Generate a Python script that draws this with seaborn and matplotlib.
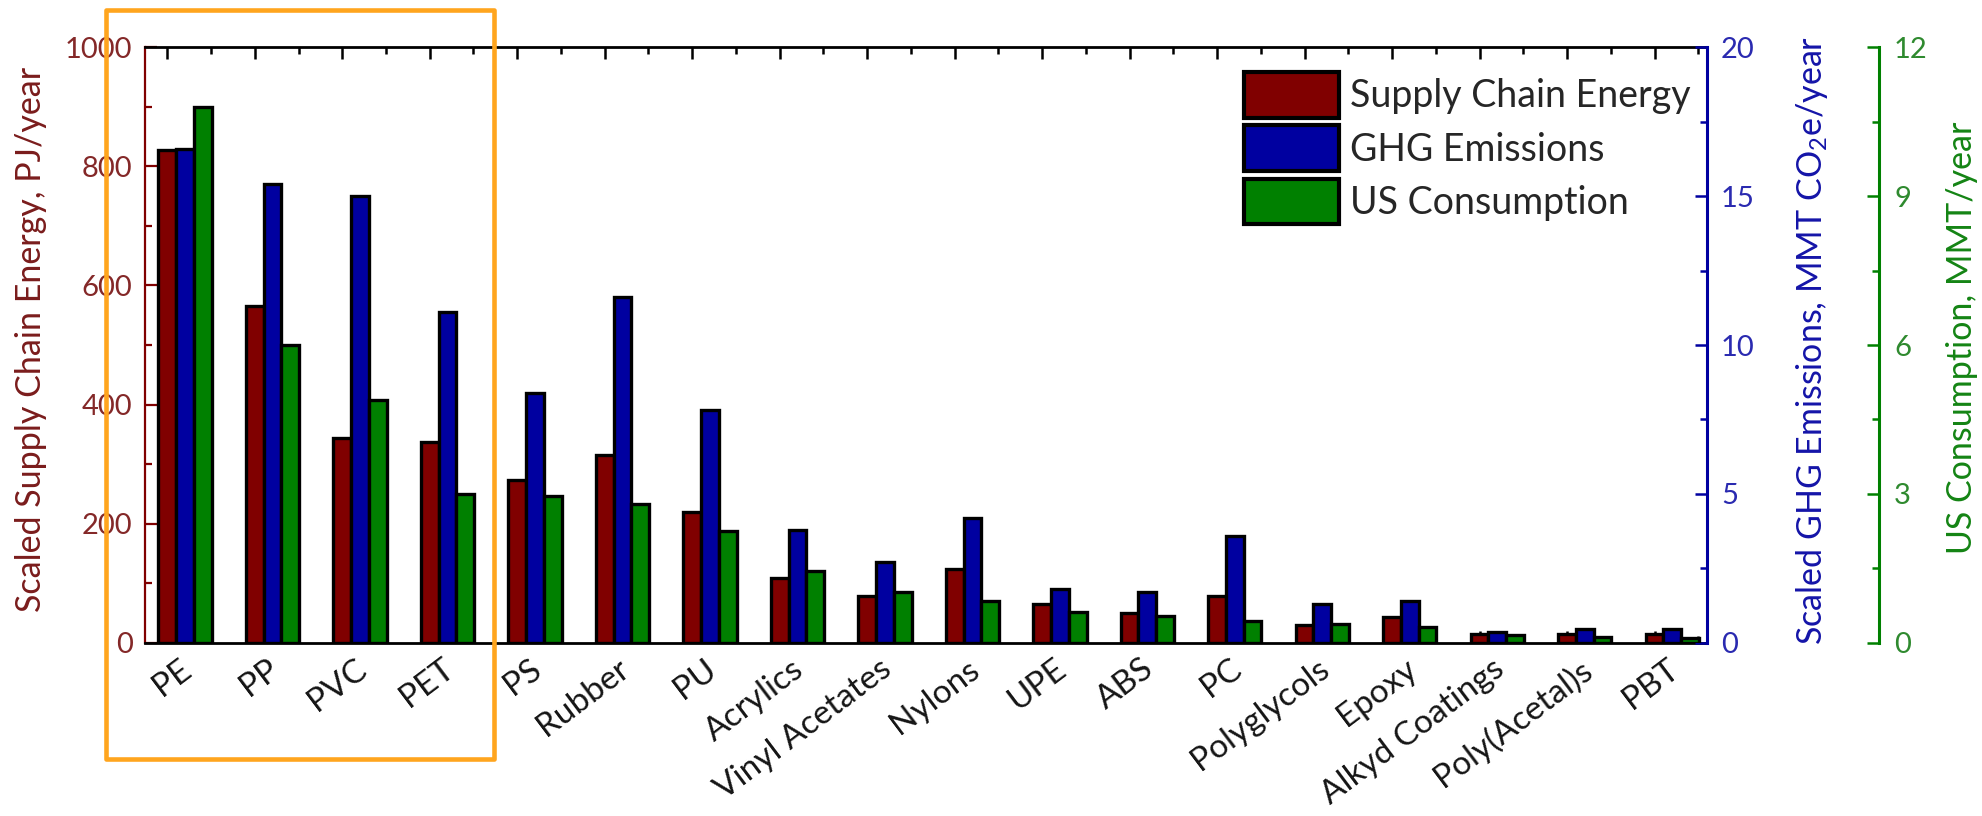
import numpy as np
import matplotlib
matplotlib.use("Agg")
import matplotlib.pyplot as plt
import seaborn as sns
from matplotlib.patches import Patch, Rectangle
from matplotlib.ticker import FixedLocator, MultipleLocator
from matplotlib.transforms import ScaledTranslation

# ---- data -------------------------------------------------------------
categories = ["PE", "PP", "PVC", "PET", "PS", "Rubber", "PU", "Acrylics",
              "Vinyl Acetates", "Nylons", "UPE", "ABS", "PC", "Polyglycols",
              "Epoxy", "Alkyd Coatings", "Poly(Acetal)s", "PBT"]
# scaled supply chain energy, PJ/year (left axis)
supply_energy_pj = [827, 565, 344, 337, 274, 315, 220, 108, 79, 123,
                    65, 50, 79, 29, 43, 15, 15, 15]
# scaled GHG emissions, MMT CO2e/year (first right axis)
ghg_mmt_co2e = [16.6, 15.4, 15.0, 11.1, 8.4, 11.6, 7.8, 3.8, 2.7, 4.2,
                1.8, 1.7, 3.6, 1.3, 1.4, 0.35, 0.47, 0.47]
# US consumption, MMT/year (second right axis)
us_consumption_mmt = [10.8, 6.0, 4.9, 3.0, 2.95, 2.8, 2.25, 1.45, 1.03, 0.84,
                      0.62, 0.54, 0.44, 0.38, 0.31, 0.16, 0.12, 0.1]
series_names = ["Supply Chain Energy", "GHG Emissions", "US Consumption"]

energy_ticks = [0, 200, 400, 600, 800, 1000]
ghg_ticks = [0, 5, 10, 15, 20]
consumption_ticks = [0, 3, 6, 9, 12]

# ---- style ------------------------------------------------------------
RED, BLUE, GREEN = "#800000", "#0000A0", "#008000"
RED_TXT, BLUE_TXT, GREEN_TXT = "#842828", "#2a2ab0", "#2f8a2f"
RED_LBL, BLUE_LBL, GREEN_LBL = "#7a1c1c", "#1414a8", "#148414"
LABEL_SIZE = 24.5
TICK_SIZE = 21

sns.set_style("white")
plt.rcParams["font.family"] = ["Lato", "DejaVu Sans"]
plt.rcParams["mathtext.fontset"] = "custom"
plt.rcParams["mathtext.rm"] = "Lato"
plt.rcParams["mathtext.it"] = "Lato"
plt.rcParams["mathtext.bf"] = "Lato"

fig = plt.figure(figsize=(19.82, 8.16), dpi=100)
ax = fig.add_axes([0.07316, 0.21238, 0.78809, 0.72965])
ax2 = ax.twinx()
ax3 = ax.twinx()

idx = np.arange(len(categories))
bar_w = 0.203
bar_kw = dict(native_scale=True, orient="x", width=bar_w, saturation=1,
              edgecolor="black", linewidth=2.4, errorbar=None)

sns.barplot(x=idx + 0 * bar_w, y=supply_energy_pj, color=RED, ax=ax, **bar_kw)
sns.barplot(x=idx + 1 * bar_w, y=ghg_mmt_co2e, color=BLUE, ax=ax2, **bar_kw)
sns.barplot(x=idx + 2 * bar_w, y=us_consumption_mmt, color=GREEN, ax=ax3, **bar_kw)

ax.set_xlim(-0.255, 17.6)
ax.set_ylim(energy_ticks[0], energy_ticks[-1])
ax2.set_ylim(ghg_ticks[0], ghg_ticks[-1])
ax3.set_ylim(consumption_ticks[0], consumption_ticks[-1])

# ---- x axis -----------------------------------------------------------
ax.xaxis.set_major_locator(FixedLocator(idx))
ax.xaxis.set_minor_locator(FixedLocator(idx + 0.5))
ax.set_xticklabels(categories)
ax.tick_params(axis="x", which="both", direction="in", top=True, bottom=True,
               color="black", width=1.8)
ax.tick_params(axis="x", which="major", length=8.6, labelsize=24, pad=8,
               labelcolor="#151515")
ax.tick_params(axis="x", which="minor", length=5)
shift = ScaledTranslation(12 / 100, 0, fig.dpi_scale_trans)
for lab in ax.get_xticklabels():
    lab.set_rotation(37)
    lab.set_rotation_mode("anchor")
    lab.set_ha("right")
    lab.set_va("top")
    lab.set_transform(lab.get_transform() + shift)

# ---- left axis --------------------------------------------------------
ax.yaxis.set_major_locator(FixedLocator(energy_ticks))
ax.yaxis.set_minor_locator(MultipleLocator(100))
ax.tick_params(axis="y", which="both", direction="in", color=RED, width=1.6)
ax.tick_params(axis="y", which="major", length=8.6, labelsize=TICK_SIZE,
               labelcolor=RED_TXT, pad=9)
ax.tick_params(axis="y", which="minor", length=5)
ax.set_ylabel("Scaled Supply Chain Energy, PJ/year", fontsize=LABEL_SIZE,
              color=RED_LBL)
ax.yaxis.set_label_coords(-0.073, 0.51)

# ---- first right axis -------------------------------------------------
ax2.yaxis.set_major_locator(FixedLocator(ghg_ticks))
ax2.yaxis.set_minor_locator(MultipleLocator(2.5))
ax2.tick_params(axis="y", which="both", direction="in", color=BLUE, width=1.8)
ax2.tick_params(axis="y", which="major", length=8.6, labelsize=TICK_SIZE,
                labelcolor=BLUE_TXT, pad=10)
ax2.tick_params(axis="y", which="minor", length=5)
ax2.set_ylabel("Scaled GHG Emissions, MMT CO$_2$e/year", fontsize=LABEL_SIZE,
               color=BLUE_LBL)
ax2.yaxis.set_label_coords(1.0672, 0.508)

# ---- second right axis ------------------------------------------------
ax3.spines["right"].set_position(("axes", 1.110))
ax3.yaxis.set_major_locator(FixedLocator(consumption_ticks))
ax3.yaxis.set_minor_locator(MultipleLocator(1.5))
ax3.tick_params(axis="y", which="both", direction="in", color=GREEN, width=1.8)
ax3.tick_params(axis="y", which="major", length=9, labelsize=TICK_SIZE,
                labelcolor=GREEN_TXT, pad=11)
ax3.tick_params(axis="y", which="minor", length=5)
ax3.set_ylabel("US Consumption, MMT/year", fontsize=LABEL_SIZE,
               color=GREEN_LBL)
ax3.yaxis.set_label_coords(1.1633, 0.512)

for a in (ax, ax2, ax3):
    a.yaxis.label.set_va("center")
    a.yaxis.label.set_ha("center")

# ---- spines -----------------------------------------------------------
ax.spines["right"].set_visible(False)
ax.spines["left"].set_color(RED)
ax.spines["left"].set_linewidth(1.6)
for s in ("top", "bottom"):
    ax.spines[s].set_color("black")
    ax.spines[s].set_linewidth(2.0)
for a, c in ((ax2, BLUE), (ax3, GREEN)):
    for s in ("left", "top", "bottom"):
        a.spines[s].set_visible(False)
    a.spines["right"].set_color(c)
    a.spines["right"].set_linewidth(2.2)

# ---- legend -----------------------------------------------------------
handles = [Patch(facecolor=c, edgecolor="black", linewidth=3.0)
           for c in (RED, BLUE, GREEN)]
ax3.legend(handles, series_names, loc="upper left",
           bbox_to_anchor=(0.7036, 0.9585), frameon=False, fontsize=27,
           handlelength=2.53, handleheight=1.5, labelspacing=0.2,
           handletextpad=0.3, borderpad=0, borderaxespad=0)

# ---- highlight box around the four commodity plastics -----------------
fig.patches.append(Rectangle((0.0535, 0.0699), 0.1957, 0.9178,
                             transform=fig.transFigure, fill=False,
                             edgecolor="#FFA51E", linewidth=3.3,
                             joinstyle="round", zorder=10))

fig.savefig("out.png", dpi=100)
